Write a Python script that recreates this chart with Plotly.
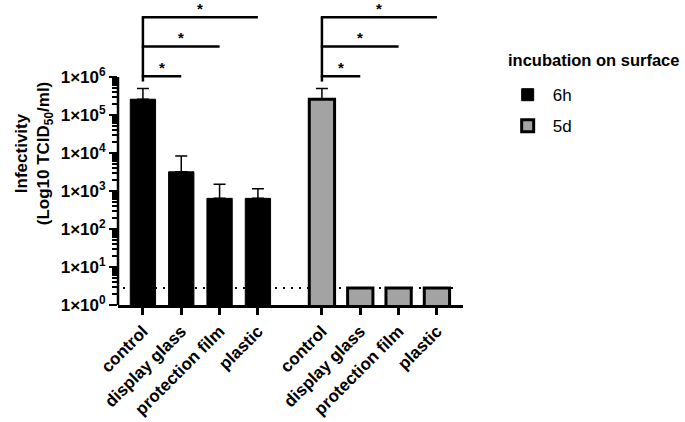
import plotly.graph_objects as go

# ---- data ----
categories = ["control", "display glass", "protection film", "plastic"]
groups = ["6h", "5d"]
values_6h = [2.6e5, 3.2e3, 6.4e2, 6.4e2]
upper_6h = [5.0e5, 8.3e3, 1.5e3, 1.15e3]
values_5d = [2.6e5, 2.8, 2.8, 2.8]
upper_5d = [5.0e5, None, None, None]
detection_limit = 2.8
y_tickvals = [1e0, 1e1, 1e2, 1e3, 1e4, 1e5, 1e6]
y_ticktext = ["1×10<sup>%d</sup>" % k for k in range(7)]
legend_title = "incubation on surface"

# ---- layout constants ----
group_offset = 4.67
bar_width = 0.66
FONT = "Arial, Liberation Sans, sans-serif"

x6 = [i for i in range(len(categories))]
x5 = [group_offset + i for i in range(len(categories))]

def err(vals, ups):
    return [None if u is None else u - v for v, u in zip(vals, ups)]

fig = go.Figure()
fig.add_trace(go.Bar(
    x=x6, y=values_6h, name=groups[0], width=bar_width,
    marker=dict(color="black", line=dict(color="black", width=1)),
    error_y=dict(type="data", symmetric=False, array=err(values_6h, upper_6h),
                 arrayminus=[0] * 4, color="black", thickness=1.5, width=6),
    legendgroup="a"))
fig.add_trace(go.Bar(
    x=x5, y=values_5d, name=groups[1], width=bar_width,
    marker=dict(color="#a3a3a3", line=dict(color="black", width=3)),
    error_y=dict(type="data", symmetric=False, array=err(values_5d, upper_5d),
                 arrayminus=[0] * 4, color="black", thickness=1.5, width=6),
    legendgroup="b"))

shapes = []
# y axis line (only up to 1e6)
shapes.append(dict(type="line", xref="paper", yref="y", x0=0, x1=0, y0=1, y1=1e6,
                   line=dict(color="black", width=2.5)))
# detection limit dotted line
shapes.append(dict(type="line", xref="x", yref="y", x0=-0.52, x1=8.2,
                   y0=detection_limit, y1=detection_limit, layer="below",
                   line=dict(color="black", width=2, dash="2px,6px")))

# significance brackets (log10 levels)
levels = [6.02, 6.80, 7.57]
stem_bottom = 5.88
annotations = []
for xs in (x6, x5):
    x0 = xs[0]
    shapes.append(dict(type="line", xref="x", yref="y", x0=x0, x1=x0,
                       y0=10 ** stem_bottom, y1=10 ** levels[-1],
                       line=dict(color="black", width=2.5)))
    for j, lv in enumerate(levels):
        x1 = xs[j + 1]
        shapes.append(dict(type="line", xref="x", yref="y", x0=x0 - 0.03, x1=x1,
                           y0=10 ** lv, y1=10 ** lv,
                           line=dict(color="black", width=2.5)))
        annotations.append(dict(x=(x0 + x1) / 2, y=lv, xref="x", yref="y",
                                text="<b>*</b>", showarrow=False, yanchor="bottom",
                                yshift=-1.5,
                                font=dict(family=FONT, size=15, color="black")))

# legend title
annotations.append(dict(x=1.124, y=0.808, xref="paper", yref="paper",
                        xanchor="left", yanchor="middle", showarrow=False,
                        text="<b>%s</b>" % legend_title,
                        font=dict(family=FONT, size=16.5, color="black")))

minor_vals = [k * 10 ** d for d in range(6) for k in range(2, 10)]

fig.update_layout(
    width=685, height=422,
    margin=dict(l=118, r=222, t=2, b=117, autoexpand=False),
    paper_bgcolor="white", plot_bgcolor="white",
    font=dict(family=FONT, color="black"),
    barmode="overlay",
    showlegend=True,
    legend=dict(
        font=dict(family=FONT, size=17, color="black"),
        x=1.115, xanchor="left", y=0.752, yanchor="top",
        itemwidth=40,
        tracegroupgap=6, bgcolor="rgba(0,0,0,0)"),
    xaxis=dict(
        range=[-0.65, 8.35], showgrid=False, zeroline=False, automargin=False,
        showline=True, linecolor="black", linewidth=2.5,
        tickvals=x6 + x5, ticktext=categories + categories,
        ticks="outside", ticklen=7, tickwidth=2.5, tickcolor="black",
        tickangle=-45,
        tickfont=dict(family=FONT, size=17, color="black", weight="bold")),
    yaxis=dict(
        type="log", range=[0, 303 / 38.0], showgrid=False, zeroline=False,
        showline=False, automargin=False,
        tickvals=y_tickvals, ticktext=y_ticktext,
        ticks="outside", ticklen=8, tickwidth=2, tickcolor="black",
        tickfont=dict(family=FONT, size=17, color="black", weight="bold"),
        minor=dict(tickvals=minor_vals, ticks="outside", ticklen=5,
                   tickwidth=1.5, tickcolor="black", showgrid=False),
        title=dict(text="<b>Infectivity<br>(Log10 TCID<sub>50</sub>/ml)</b>",
                   font=dict(family=FONT, size=17, color="black"), standoff=6)),
    shapes=shapes, annotations=annotations,
)

fig.write_html("out.html", config={"displayModeBar": False},
               post_script="document.body.style.margin='0';document.body.style.overflow='hidden';")
